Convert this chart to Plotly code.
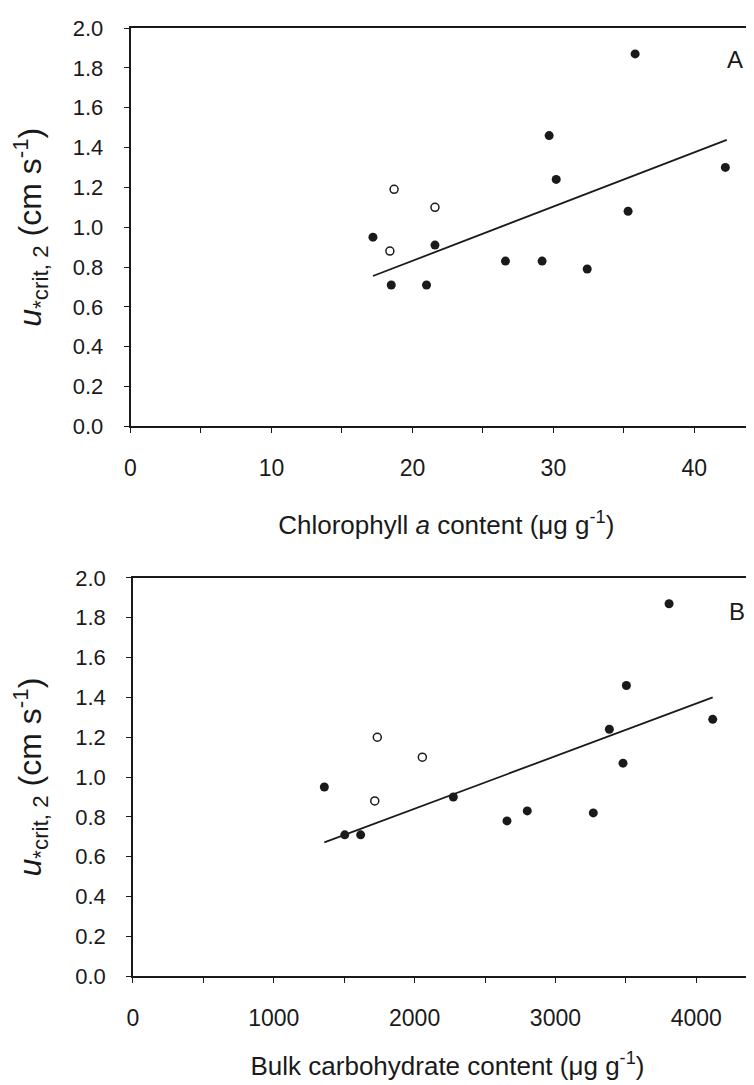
import plotly.graph_objects as go
from plotly.subplots import make_subplots

# Panel A: chlorophyll a content (ug g-1) vs u*crit,2 (cm s-1)
chl_filled_x = [35.8, 29.7, 42.2, 30.2, 35.3, 17.2, 21.6, 26.6, 29.2, 32.4, 18.5, 21.0]
chl_filled_y = [1.87, 1.46, 1.30, 1.24, 1.08, 0.95, 0.91, 0.83, 0.83, 0.79, 0.71, 0.71]
chl_open_x = [18.7, 21.6, 18.4]
chl_open_y = [1.19, 1.10, 0.88]
chl_fit_x = [17.2, 42.3]
chl_fit_y = [0.755, 1.438]

# Panel B: bulk carbohydrate content (ug g-1) vs u*crit,2 (cm s-1)
carb_filled_x = [3807, 3504, 4117, 3383, 3480, 1359, 2275, 2800, 3269, 2656, 1504, 1617]
carb_filled_y = [1.87, 1.46, 1.29, 1.24, 1.07, 0.95, 0.90, 0.83, 0.82, 0.78, 0.71, 0.71]
carb_open_x = [1735, 2055, 1717]
carb_open_y = [1.20, 1.10, 0.88]
carb_fit_x = [1359, 4117]
carb_fit_y = [0.672, 1.400]

y_ticks = [0.0, 0.2, 0.4, 0.6, 0.8, 1.0, 1.2, 1.4, 1.6, 1.8, 2.0]
chl_ticks = [0, 5, 10, 15, 20, 25, 30, 35, 40, 45]
chl_ticktext = ["0", "", "10", "", "20", "", "30", "", "40", ""]
carb_ticks = [0, 500, 1000, 1500, 2000, 2500, 3000, 3500, 4000, 4500]
carb_ticktext = ["0", "", "1000", "", "2000", "", "3000", "", "4000", ""]

FONT = "Liberation Sans, Arial, sans-serif"
INK = "#1a1a1a"

fig = make_subplots(rows=2, cols=1)

filled = dict(mode="markers", marker=dict(symbol="circle", size=9, color=INK,
                                           line=dict(width=0)), showlegend=False)
opened = dict(mode="markers", marker=dict(symbol="circle", size=8, color="white",
                                           line=dict(width=1.5, color=INK)), showlegend=False)
fitl = dict(mode="lines", line=dict(color=INK, width=1.8), showlegend=False)

fig.add_trace(go.Scatter(x=chl_fit_x, y=chl_fit_y, **fitl), row=1, col=1)
fig.add_trace(go.Scatter(x=chl_filled_x, y=chl_filled_y, **filled), row=1, col=1)
fig.add_trace(go.Scatter(x=chl_open_x, y=chl_open_y, **opened), row=1, col=1)
fig.add_trace(go.Scatter(x=carb_fit_x, y=carb_fit_y, **fitl), row=2, col=1)
fig.add_trace(go.Scatter(x=carb_filled_x, y=carb_filled_y, **filled), row=2, col=1)
fig.add_trace(go.Scatter(x=carb_open_x, y=carb_open_y, **opened), row=2, col=1)

ytitle = "<i>u</i><sub>*crit, 2</sub> (cm s<sup>-1</sup>)"

common_y = dict(range=[0, 2.0], tickvals=y_ticks, tickformat=".1f", showline=True,
                linecolor=INK, linewidth=1.5, ticks="outside", ticklen=5, tickwidth=1.2,
                tickcolor=INK, showgrid=False, zeroline=False, mirror=False,
                tickfont=dict(size=22, color=INK), ticklabelstandoff=16,
                title=dict(text=ytitle, font=dict(size=32, color=INK), standoff=24))
common_x = dict(showline=True, linecolor=INK, linewidth=1.5, ticks="outside", ticklen=5,
                tickwidth=1.2, tickcolor=INK, showgrid=False, zeroline=False, mirror=True,
                tickfont=dict(size=23, color=INK), ticklabelstandoff=15)

fig.update_layout(
    width=754, height=1085,
    margin=dict(l=122, r=0, t=20, b=0),
    paper_bgcolor="white", plot_bgcolor="white",
    font=dict(family=FONT, color=INK),
    xaxis=dict(domain=[0.0008, 1.0], range=[0, 44.8], tickvals=chl_ticks, ticktext=chl_ticktext,
               title=dict(text="Chlorophyll <i>a</i> content (\u03bcg g<sup>-1</sup>)",
                          font=dict(size=26, color=INK), standoff=36), **common_x),
    yaxis=dict(domain=[0.6213, 1.0], **common_y),
    xaxis2=dict(domain=[0.0047, 1.0], range=[0, 4467], tickvals=carb_ticks, ticktext=carb_ticktext,
                title=dict(text="Bulk carbohydrate content (\u03bcg g<sup>-1</sup>)",
                           font=dict(size=26, color=INK), standoff=27), **common_x),
    yaxis2=dict(domain=[0.0986, 0.4773], **common_y),
)

fig.add_annotation(x=42.9, y=1.84, xref="x", yref="y", text="A", showarrow=False,
                   font=dict(size=24, color=INK))
fig.add_annotation(x=4290, y=1.83, xref="x2", yref="y2", text="B", showarrow=False,
                   font=dict(size=24, color=INK))

fig.write_html("out.html")
